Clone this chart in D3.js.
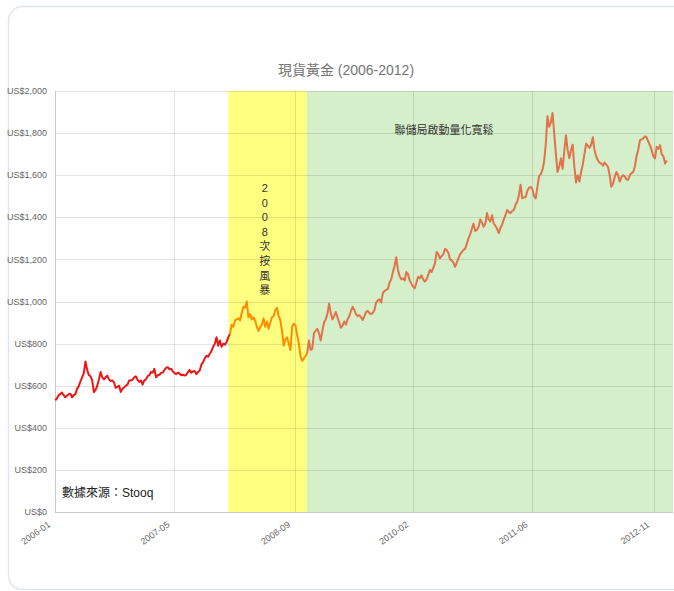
<!DOCTYPE html>
<html><head><meta charset="utf-8">
<script src="https://cdn.jsdelivr.net/npm/d3@7"></script>
<style>
body{margin:0;background:#fff;}
svg{display:block;font-family:"Liberation Sans",Arial,"Noto Sans CJK TC",sans-serif;}
</style>
</head><body>
<svg id="chart" width="674" height="591"></svg>
<script>
// ---------------- DATA ----------------
const chartTitle = "現貨黃金 (2006-2012)";
const sourceNote = "數據來源：Stooq";
const firstWeek = "2006-01-02";           // weekly observations start here (one value per week)
const gold2006 = [530,540,555,560,568,555,545,552,560,562,545,555,560,585,598,620,640,660,715,675,650,645,625,570,580,600,630,665,640,630,640,648,630,622,625,615,590,595,600,570,585,592,600,605,625,625,628,640,645,628,618,625];
const gold2007 = [605,625,630,645,650,665,662,680,640,650,652,660,662,675,685,688,678,680,668,660,655,662,658,650,652,648,652,665,675,662,668,670,655,665,672,700,712,730,742,738,752,765,785,800,830,790,815,785,800,795,808,830];
const gold2008 = [845,890,880,910,915,920,910,945,975,970,1000,925,940,915,925,910,880,860,880,890,920,880,905,870,900,925,930,960,970,930,910,860,790,820,830,800,770,880,895,885,840,800,740,718,730,740,755,815,770,775,850,860];
const gold2009 = [870,850,815,860,900,915,940,990,945,915,930,950,925,900,875,885,905,890,915,930,955,975,960,940,930,935,925,912,930,950,955,945,940,945,960,995,1005,1010,995,1040,1050,1055,1060,1090,1105,1140,1170,1210,1150,1120,1105,1110];
const gold2010 = [1100,1140,1130,1100,1085,1070,1063,1090,1118,1110,1125,1105,1095,1105,1125,1150,1140,1160,1180,1235,1225,1205,1215,1225,1250,1245,1230,1200,1195,1185,1165,1185,1205,1225,1235,1245,1250,1275,1300,1320,1345,1370,1335,1340,1355,1390,1375,1355,1370,1420,1390,1380];
const gold2011 = [1410,1370,1360,1345,1325,1350,1365,1390,1410,1435,1425,1420,1430,1435,1460,1475,1505,1555,1490,1495,1495,1525,1540,1545,1535,1500,1490,1545,1595,1605,1625,1665,1750,1880,1830,1850,1895,1800,1700,1615,1640,1680,1630,1715,1790,1720,1680,1720,1745,1640,1565,1600];
const gold2012 = [1570,1615,1650,1700,1750,1740,1730,1745,1780,1720,1690,1670,1660,1655,1645,1660,1650,1640,1600,1545,1560,1590,1615,1600,1570,1590,1600,1595,1580,1578,1600,1610,1615,1640,1690,1720,1765,1770,1775,1785,1780,1760,1742,1720,1690,1680,1735,1725,1743,1700,1690,1655,1670];

const periodNames  = ["2008次按風暴", "聯儲局啟動量化寬鬆"];
const periodStarts = ["2007-12-25", "2008-11-16"];
const periodEnds   = ["2008-11-16", "2013-01-19"];

const yTicks = [0,200,400,600,800,1000,1200,1400,1600,1800,2000];
const xTickDates  = ["2006-01-01","2007-05-13","2008-09-26","2010-02-01","2011-06-13","2012-11-01"];
const xTickLabels = ["2006-01","2007-05","2008-09","2010-02","2011-06","2012-11"];
const xDomain = ["2006-01-01","2013-01-19"];

// ---------------- BUILD ----------------
const parse = d3.utcParse("%Y-%m-%d");
const prices = [].concat(gold2006, gold2007, gold2008, gold2009, gold2010, gold2011, gold2012);
const start = parse(firstWeek);
const data = prices.map((v, i) => ({date: d3.utcDay.offset(start, 7 * i), value: v}));

const svg = d3.select("#chart");
const M = {left: 55, right: 673, top: 91, bottom: 512};

const x = d3.scaleUtc().domain(xDomain.map(parse)).range([M.left, M.right]);
const y = d3.scaleLinear().domain([0, 2000]).range([M.bottom, M.top]);

// card border
svg.append("rect").attr("x", 8.5).attr("y", 6.5).attr("width", 720).attr("height", 583)
  .attr("rx", 14).attr("fill", "#fff").attr("stroke", "#e2e6ea").attr("stroke-width", 1.5);

// title
svg.append("text").attr("x", 346).attr("y", 75).attr("text-anchor", "middle")
  .attr("font-size", 14).attr("fill", "#757575").text(chartTitle);

// shaded periods
const periodFills = ["#ffff80", "#d6efcb"];
periodNames.forEach((n, i) => {
  const x0 = x(parse(periodStarts[i])), x1 = x(parse(periodEnds[i]));
  svg.append("rect").attr("x", x0).attr("y", M.top).attr("width", x1 - x0)
    .attr("height", M.bottom - M.top).attr("fill", periodFills[i]);
});

// gridlines
const grid = svg.append("g").attr("stroke", "rgba(0,0,0,0.11)").attr("stroke-width", 1);
yTicks.forEach(t => {
  if (t === 0) return;
  grid.append("line").attr("x1", M.left).attr("x2", M.right)
    .attr("y1", Math.round(y(t)) + 0.5).attr("y2", Math.round(y(t)) + 0.5);
});
xTickDates.forEach(d => {
  const xx = Math.round(x(parse(d))) + 0.5;
  grid.append("line").attr("x1", xx).attr("x2", xx).attr("y1", M.top).attr("y2", M.bottom);
});

// axes lines
svg.append("line").attr("x1", M.left + 0.5).attr("x2", M.left + 0.5).attr("y1", M.top).attr("y2", M.bottom)
  .attr("stroke", "#c8c8c8");
svg.append("line").attr("x1", M.left).attr("x2", M.right).attr("y1", M.bottom + 0.5).attr("y2", M.bottom + 0.5)
  .attr("stroke", "#c8c8c8");

// y labels
const fmt = d3.format(",");
svg.append("g").selectAll("text").data(yTicks).join("text")
  .attr("x", 47).attr("y", d => y(d)).attr("dy", "0.35em").attr("text-anchor", "end")
  .attr("font-size", 9).attr("fill", "#666").text(d => "US$" + fmt(d));

// x labels
svg.append("g").selectAll("text").data(xTickDates).join("text")
  .attr("transform", d => `translate(${x(parse(d)) - 4},${M.bottom + 14}) rotate(-35)`)
  .attr("text-anchor", "end").attr("font-size", 9).attr("fill", "#666")
  .text((d, i) => xTickLabels[i]);

// line segments coloured by period
const lineColors = ["#f01515", "#ff8c00", "#e0724c"];
const b0 = parse(periodStarts[0]), b1 = parse(periodStarts[1]);
const segs = [
  data.filter((d, i) => d.date < b0 || (i > 0 && data[i - 1].date < b0 && d.date >= b0)),
  data.filter((d, i) => (d.date >= b0 && d.date < b1) || (i > 0 && data[i - 1].date < b1 && d.date >= b1)),
  data.filter(d => d.date >= b1)
];
const line = d3.line().x(d => x(d.date)).y(d => y(d.value));
segs.forEach((s, i) => {
  svg.append("path").datum(s).attr("d", line).attr("fill", "none")
    .attr("stroke", lineColors[i]).attr("stroke-width", 2).attr("stroke-linejoin", "round");
});

// period annotations
const crisisCx = (x(parse(periodStarts[0])) + x(parse(periodEnds[0]))) / 2 - 3;
Array.from(periodNames[0]).forEach((ch, i) => {
  svg.append("text").attr("x", crisisCx).attr("y", 192 + i * 14.6).attr("text-anchor", "middle")
    .attr("font-size", 11).attr("fill", "#333").text(ch);
});
svg.append("text").attr("x", 444).attr("y", 134).attr("text-anchor", "middle")
  .attr("font-size", 11).attr("fill", "#333").text(periodNames[1]);

// source
svg.append("text").attr("x", 62).attr("y", 497).attr("font-size", 12).attr("fill", "#222").text(sourceNote);
</script>
</body></html>
